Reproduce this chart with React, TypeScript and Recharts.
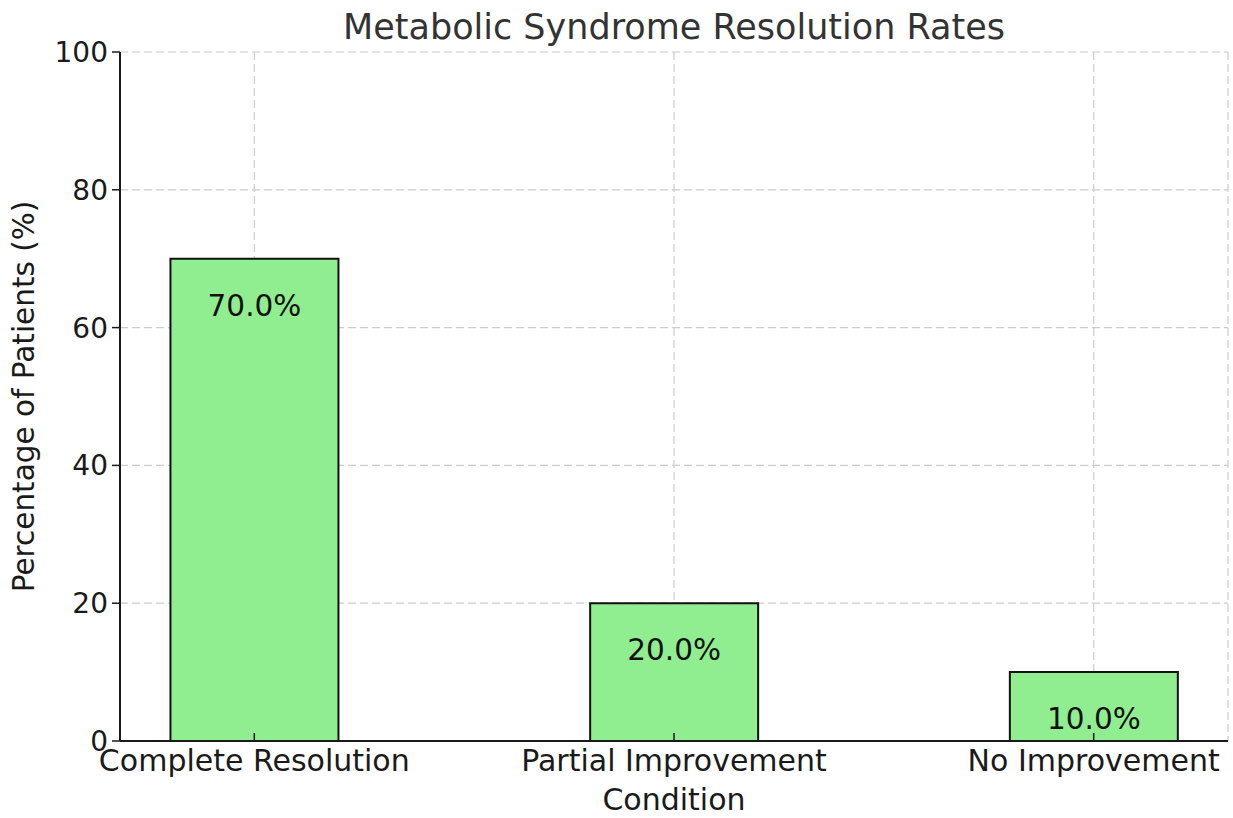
import React from "react";
import { BarChart, Bar, XAxis, YAxis, CartesianGrid, LabelList } from "recharts";

const categories = ["Complete Resolution", "Partial Improvement", "No Improvement"];
const resolutionRates = [70, 20, 10];
const yTicks = [0, 20, 40, 60, 80, 100];

const data = categories.map((name, i) => ({ idx: i, name, rate: resolutionRates[i] }));

const FONT = "'DejaVu Sans', Verdana, sans-serif";

const App: React.FC = () => {
  return (
    <div style={{ position: "absolute", left: 0, top: 0, width: 1233, height: 818, background: "#fff", fontFamily: FONT }}>
      {/* title */}
      <div
        style={{
          position: "absolute",
          left: 120,
          width: 1108,
          top: 6,
          height: 42,
          lineHeight: "42px",
          textAlign: "center",
          fontSize: 35,
          color: "#333333",
        }}
      >
        Metabolic Syndrome Resolution Rates
      </div>
      <BarChart
        width={1233}
        height={818}
        data={data}
        margin={{ top: 52, right: 5, bottom: 0, left: 0 }}
        style={{ fontFamily: FONT }}
      >
        <XAxis
          dataKey="idx"
          type="number"
          domain={[-0.32, 2.32]}
          ticks={[0, 1, 2]}
          allowDataOverflow
          tickFormatter={(v: number) => categories[v] ?? ""}
          height={77}
          axisLine={{ stroke: "#1a1a1a", strokeWidth: 2 }}
          tickLine={{ stroke: "#1a1a1a", strokeWidth: 1.5 }}
          tickSize={-8}
          tickMargin={17}
          tick={{ fill: "#1a1a1a", fontSize: 30 }}
          interval={0}
          label={{
            value: "Condition",
            position: "insideBottom",
            offset: 8,
            style: { fill: "#1a1a1a", fontSize: 30 },
          }}
        />
        <YAxis
          type="number"
          domain={[0, 100]}
          ticks={yTicks}
          width={120}
          axisLine={{ stroke: "#1a1a1a", strokeWidth: 2 }}
          tickLine={{ stroke: "#1a1a1a", strokeWidth: 1.5 }}
          tickSize={8}
          tickMargin={4}
          tick={{ fill: "#1a1a1a", fontSize: 28 }}
          label={{
            value: "Percentage of Patients (%)",
            angle: -90,
            position: "insideLeft",
            offset: 24,
            style: { textAnchor: "middle", fill: "#1a1a1a", fontSize: 29.5 },
          }}
        />
        <Bar
          dataKey="rate"
          fill="#90EE90"
          stroke="#111111"
          strokeWidth={2}
          barSize={168}
          isAnimationActive={false}
        >
          <LabelList
            dataKey="rate"
            position="insideTop"
            offset={36}
            formatter={(v: number) => `${v.toFixed(1)}%`}
            style={{ fill: "#111111", fontSize: 29.5 }}
          />
        </Bar>
        {/* grid sits above the bars, like the reference */}
        <CartesianGrid stroke="#cccccc" strokeDasharray="8 4" strokeWidth={1.2} />
      </BarChart>
    </div>
  );
};

export default App;
